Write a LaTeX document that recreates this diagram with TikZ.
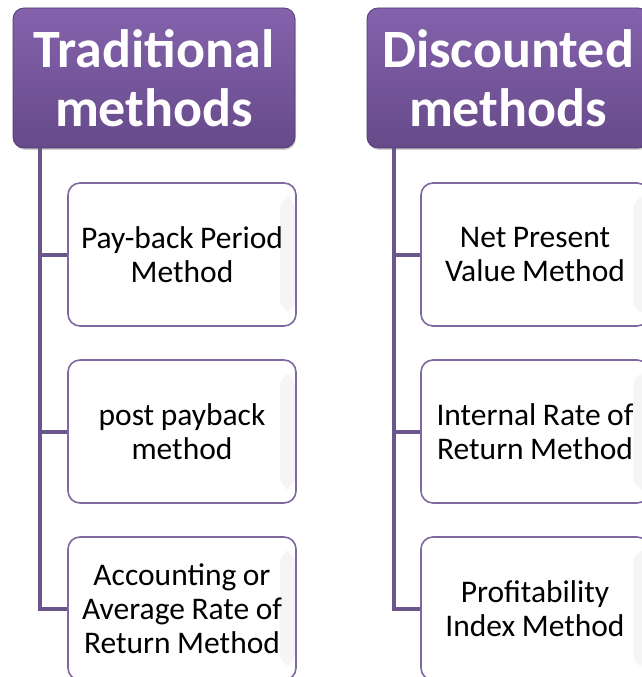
\documentclass[tikz,border=0pt]{standalone}
\usepackage{fontspec}
\setmainfont{Carlito}
\usetikzlibrary{shadows}
\definecolor{hdtop}{RGB}{132,98,172}
\definecolor{hdbot}{RGB}{102,74,138}
\definecolor{conncol}{RGB}{106,86,138}
\definecolor{chborder}{RGB}{128,104,160}
\newcommand{\childfont}{\fontsize{31.5}{34}\selectfont}
\tikzset{
  header/.style={rectangle, rounded corners=11pt, minimum width=282pt, minimum height=140pt,
    top color=hdtop, bottom color=hdbot, draw=hdbot!80!black, line width=0.8pt,
    text=white, font=\bfseries\fontsize{54}{59}\selectfont, align=center, inner sep=0pt,
    drop shadow={shadow xshift=1pt, shadow yshift=-2pt, opacity=0.35}},
  child/.style={rectangle, rounded corners=12pt, minimum width=228pt, minimum height=143pt,
    fill=white, draw=chborder, line width=1.6pt, text=black,
    font=\childfont, align=center, inner sep=0pt, text width=226pt,
    execute at begin node={\spaceskip=6.5pt\relax\xspaceskip=6.5pt\relax},
    path picture={\shade[left color=white, right color=black!4]
      ([xshift=-16pt,yshift=-14pt]path picture bounding box.north east) rectangle
      ([xshift=-1pt,yshift=14pt]path picture bounding box.south east);}},
  conn/.style={draw=conncol, line width=4pt}
}
\begin{document}
\begin{tikzpicture}[x=1pt,y=-1pt]
\useasboundingbox (0,0) rectangle (642,677);
\clip (0,0) rectangle (642,677);
\node[header] (h1) at (154,78) {Traditional\\methods};
\node[header] (h2) at (508,78) {Discounted\\methods};
\coordinate (t1) at (40,148);
\coordinate (t2) at (394,148);
\node[child] (a1) at (182,254.5) {Pay-back Period\\Method};
\node[child] (a2) at (182,431.5) {post payback\\method};
\node[child] (a3) at (182,608.5) {Accounting or\\Average Rate of\\Return Method};
\node[child] (b1) at (535,254.5) {Net Present\\Value Method};
\node[child] (b2) at (535,431.5) {Internal Rate of\\Return Method};
\node[child] (b3) at (535,608.5) {Profitability\\Index Method};
\draw[conn] (t1) |- (a3.west);
\draw[conn] (t1 |- a1.west) -- (a1.west);
\draw[conn] (t1 |- a2.west) -- (a2.west);
\draw[conn] (t2) |- (b3.west);
\draw[conn] (t2 |- b1.west) -- (b1.west);
\draw[conn] (t2 |- b2.west) -- (b2.west);
\end{tikzpicture}
\end{document}
